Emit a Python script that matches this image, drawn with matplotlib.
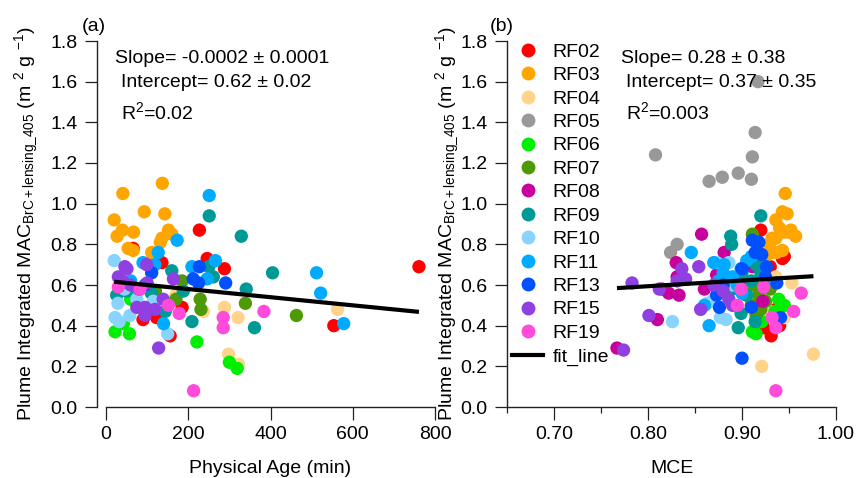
import numpy as np
import matplotlib
matplotlib.use("Agg")
import matplotlib.pyplot as plt
from matplotlib.lines import Line2D
from matplotlib.ticker import MultipleLocator, FormatStrFormatter

plt.rcParams['font.family'] = ['Liberation Sans', 'DejaVu Sans']
plt.rcParams['mathtext.fontset'] = 'custom'
plt.rcParams['mathtext.rm'] = 'Liberation Sans'
plt.rcParams['mathtext.it'] = 'Liberation Sans'
plt.rcParams['mathtext.default'] = 'regular'

flights = ['RF02', 'RF03', 'RF04', 'RF05', 'RF06', 'RF07', 'RF08',
           'RF09', 'RF10', 'RF11', 'RF13', 'RF15', 'RF19']

# panel (a): (physical age [min], MAC) per flight
a_rf02 = [(227, 0.87), (246, 0.73), (288, 0.68), (136, 0.71), (66, 0.78), (90, 0.43),
          (123, 0.44), (156, 0.35), (185, 0.49), (554, 0.40), (761, 0.69), (115, 0.73)]
a_rf03 = [(41, 1.05), (137, 1.10), (93, 0.96), (143, 0.95), (20, 0.92), (40, 0.87),
          (67, 0.86), (152, 0.87), (27, 0.84), (136, 0.83), (132, 0.81), (54, 0.78),
          (66, 0.77), (111, 0.76), (160, 0.85), (115, 0.75)]
a_rf04 = [(288, 0.49), (321, 0.44), (298, 0.26), (322, 0.21), (563, 0.48), (237, 0.47), (170, 0.55)]
a_rf05 = []
a_rf06 = [(22, 0.37), (57, 0.36), (42, 0.41), (221, 0.32), (300, 0.22), (319, 0.19), (60, 0.53)]
a_rf07 = [(339, 0.51), (463, 0.45), (229, 0.53), (231, 0.48), (170, 0.53), (185, 0.62), (120, 0.57)]
a_rf08 = []
a_rf09 = [(329, 0.84), (251, 0.94), (405, 0.66), (341, 0.58), (361, 0.39), (209, 0.42),
          (261, 0.64), (160, 0.67), (188, 0.57), (144, 0.47), (26, 0.55), (250, 0.69),
          (50, 0.57), (110, 0.56)]
a_rf10 = [(20, 0.72), (22, 0.44), (32, 0.42), (29, 0.51), (58, 0.45), (75, 0.53),
          (115, 0.52), (150, 0.36), (45, 0.58)]
a_rf11 = [(251, 1.04), (173, 0.82), (127, 0.76), (209, 0.69), (266, 0.72), (246, 0.63),
          (512, 0.66), (522, 0.56), (578, 0.41), (140, 0.41), (119, 0.70), (90, 0.71), (60, 0.62)]
a_rf13 = [(227, 0.69), (212, 0.63), (291, 0.61), (111, 0.66), (95, 0.60), (225, 0.61)]
a_rf15 = [(128, 0.29), (99, 0.70), (46, 0.69), (30, 0.64), (75, 0.49), (95, 0.49),
          (95, 0.45), (119, 0.48), (164, 0.63), (139, 0.53), (60, 0.60), (80, 0.58),
          (51, 0.68), (40, 0.62), (100, 0.61)]
a_rf19 = [(213, 0.08), (384, 0.47), (285, 0.44), (285, 0.39), (178, 0.46), (152, 0.50),
          (30, 0.59), (83, 0.58)]

# panel (b): (MCE, MAC) per flight
b_rf02 = [(0.920, 0.87), (0.943, 0.73), (0.931, 0.35), (0.923, 0.39), (0.936, 0.48),
          (0.932, 0.46), (0.945, 0.74), (0.925, 0.68), (0.940, 0.40), (0.915, 0.43),
          (0.930, 0.69), (0.910, 0.50)]
b_rf03 = [(0.946, 1.05), (0.943, 0.96), (0.936, 0.92), (0.952, 0.87), (0.945, 0.86),
          (0.932, 0.83), (0.943, 0.77), (0.932, 0.76), (0.950, 0.86), (0.936, 0.83),
          (0.940, 0.88), (0.948, 0.95), (0.929, 0.80), (0.937, 0.76), (0.957, 0.84), (0.925, 0.74)]
b_rf04 = [(0.976, 0.26), (0.921, 0.20), (0.953, 0.61), (0.936, 0.64), (0.930, 0.47),
          (0.925, 0.48), (0.945, 0.44)]
b_rf05 = [(0.808, 1.24), (0.917, 1.60), (0.914, 1.35), (0.911, 1.23), (0.910, 1.12),
          (0.896, 1.15), (0.879, 1.13), (0.865, 1.11), (0.824, 0.76), (0.831, 0.80)]
b_rf06 = [(0.911, 0.37), (0.915, 0.36), (0.939, 0.53), (0.945, 0.50), (0.921, 0.42),
          (0.935, 0.47), (0.905, 0.55)]
b_rf07 = [(0.912, 0.60), (0.918, 0.55), (0.925, 0.52), (0.920, 0.48), (0.915, 0.45),
          (0.930, 0.58), (0.910, 0.50), (0.911, 0.85)]
b_rf08 = [(0.857, 0.85), (0.881, 0.76), (0.830, 0.71), (0.831, 0.64), (0.815, 0.58),
          (0.822, 0.56), (0.833, 0.55), (0.860, 0.58), (0.873, 0.65), (0.810, 0.43),
          (0.767, 0.29), (0.911, 0.69), (0.922, 0.52), (0.900, 0.62)]
b_rf09 = [(0.920, 0.94), (0.888, 0.84), (0.889, 0.80), (0.896, 0.39), (0.914, 0.42),
          (0.899, 0.46), (0.910, 0.62), (0.905, 0.55), (0.920, 0.66), (0.890, 0.58),
          (0.915, 0.70), (0.900, 0.66)]
b_rf10 = [(0.826, 0.42), (0.873, 0.71), (0.886, 0.71), (0.863, 0.51), (0.877, 0.44),
          (0.883, 0.43), (0.870, 0.53), (0.880, 0.58), (0.890, 0.60)]
b_rf11 = [(0.846, 0.76), (0.865, 0.40), (0.870, 0.71), (0.881, 0.70), (0.899, 0.68),
          (0.890, 0.64), (0.905, 0.72), (0.895, 0.60), (0.880, 0.66), (0.910, 0.74),
          (0.860, 0.50), (0.900, 0.56), (0.875, 0.62)]
b_rf13 = [(0.911, 0.82), (0.918, 0.81), (0.914, 0.76), (0.900, 0.68), (0.921, 0.75),
          (0.926, 0.69), (0.876, 0.49), (0.873, 0.55), (0.910, 0.49), (0.941, 0.44),
          (0.937, 0.61), (0.900, 0.24), (0.925, 0.64), (0.880, 0.60)]
b_rf15 = [(0.783, 0.61), (0.774, 0.28), (0.801, 0.45), (0.812, 0.58), (0.854, 0.69),
          (0.856, 0.48), (0.836, 0.68), (0.840, 0.63), (0.831, 0.62), (0.870, 0.60),
          (0.886, 0.53), (0.890, 0.50), (0.880, 0.57)]
b_rf19 = [(0.936, 0.08), (0.963, 0.56), (0.955, 0.47), (0.932, 0.44), (0.936, 0.39),
          (0.899, 0.58), (0.895, 0.50), (0.923, 0.59)]

# linear fits (slope, intercept) as printed on the panels
fit_a = (-0.0002, 0.62)
fit_b = (0.28, 0.37)

panel_a = [a_rf02, a_rf03, a_rf04, a_rf05, a_rf06, a_rf07, a_rf08,
           a_rf09, a_rf10, a_rf11, a_rf13, a_rf15, a_rf19]
panel_b = [b_rf02, b_rf03, b_rf04, b_rf05, b_rf06, b_rf07, b_rf08,
           b_rf09, b_rf10, b_rf11, b_rf13, b_rf15, b_rf19]

colors = ['#FF0000', '#FFA500', '#FFD38A', '#999999', '#00EE00', '#4E9A06', '#C8009C',
          '#009A96', '#88D4FF', '#00AAFF', '#0050FF', '#9040E0', '#FF4ADC']

W, H = 856, 478
fig = plt.figure(figsize=(W / 100, H / 100), dpi=100)
ax_a = fig.add_axes([106 / W, 1 - 407 / H, 329 / W, 366 / H])
ax_b = fig.add_axes([507 / W, 1 - 407 / H, 329 / W, 366 / H])

fs = 14
msize = 92
ylabel = r'Plume Integrated MAC$_{\mathrm{BrC+lensing\_405}}$ (m $^{2}$ g $^{-1}$)'

for ax, data in [(ax_a, panel_a), (ax_b, panel_b)]:
    for pts, c, name in zip(data, colors, flights):
        if len(pts) == 0:
            continue
        x, y = zip(*pts)
        ax.scatter(x, y, s=msize, color=c, edgecolors='none', label=name, zorder=2)

# fit lines
for ax, data, (m, b) in [(ax_a, panel_a, fit_a), (ax_b, panel_b, fit_b)]:
    allx = [p[0] for pts in data for p in pts]
    xx = np.array([min(allx), max(allx)])
    ax.plot(xx, m * xx + b, color='black', lw=3, zorder=3, solid_capstyle='butt')

for ax in (ax_a, ax_b):
    ax.set_ylim(0, 1.8)
    ax.yaxis.set_major_locator(MultipleLocator(0.2))
    ax.yaxis.set_major_formatter(FormatStrFormatter('%.1f'))
    for s in ('top', 'right'):
        ax.spines[s].set_visible(False)
    for s in ('left', 'bottom'):
        ax.spines[s].set_linewidth(1.0)
        ax.spines[s].set_color('#222222')
    ax.tick_params(which='major', length=9, width=0.9, labelsize=fs, pad=5, color='#222222')
    ax.tick_params(which='minor', length=4.5, width=0.9, color='#222222')
    ax.set_ylabel(ylabel, fontsize=fs)

ax_a.set_xlim(0, 800)
ax_a.xaxis.set_major_locator(MultipleLocator(200))
ax_a.spines['left'].set_position(('outward', 6.5))
ax_a.set_xlabel('Physical Age (min)', fontsize=fs)
ax_a.yaxis.set_label_coords(-0.20, 0.5)
ax_a.xaxis.set_label_coords(0.5, -0.145)

ax_b.set_xlim(0.65, 1.0)
ax_b.xaxis.set_major_locator(MultipleLocator(0.1))
ax_b.xaxis.set_minor_locator(MultipleLocator(0.05))
ax_b.xaxis.set_major_formatter(FormatStrFormatter('%.2f'))
ax_b.set_xlabel('MCE', fontsize=fs)
ax_b.yaxis.set_label_coords(-0.14, 0.5)
ax_b.xaxis.set_label_coords(0.5, -0.145)

# statistics
ax_a.text(0.027, 0.940, 'Slope= -0.0002 ± 0.0001', transform=ax_a.transAxes, fontsize=fs, va='baseline')
ax_a.text(0.046, 0.874, 'Intercept= 0.62 ± 0.02', transform=ax_a.transAxes, fontsize=fs, va='baseline')
ax_a.text(0.046, 0.787, r'R$^{2}$=0.02', transform=ax_a.transAxes, fontsize=fs, va='baseline')
ax_b.text(0.347, 0.940, 'Slope= 0.28 ± 0.38', transform=ax_b.transAxes, fontsize=fs, va='baseline')
ax_b.text(0.362, 0.874, 'Intercept= 0.37 ± 0.35', transform=ax_b.transAxes, fontsize=fs, va='baseline')
ax_b.text(0.362, 0.787, r'R$^{2}$=0.003', transform=ax_b.transAxes, fontsize=fs, va='baseline')

fig.text(82 / W, 1 - 31 / H, '(a)', fontsize=fs, va='baseline')
fig.text(490 / W, 1 - 31 / H, '(b)', fontsize=fs, va='baseline')

handles = [Line2D([], [], ls='none', marker='o', ms=10, mfc=c, mec='none') for c in colors]
handles.append(Line2D([], [], color='black', lw=3))
labels = flights + ['fit_line']
ax_b.legend(handles, labels, loc='upper left', bbox_to_anchor=(512 / W, 1 - 43 / H),
            bbox_transform=fig.transFigure, frameon=False, fontsize=fs,
            handlelength=1.6, handletextpad=0.5, labelspacing=0.3,
            borderpad=0, borderaxespad=0)

fig.savefig('out.png', dpi=100)
